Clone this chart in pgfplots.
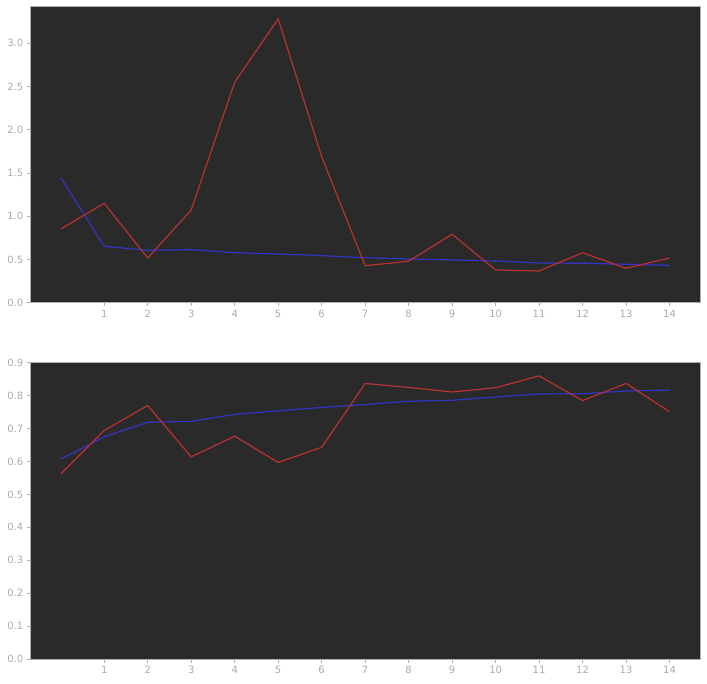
\documentclass[border=0pt]{standalone}
\usepackage{pgfplots}
\pgfplotsset{compat=1.18}
\usepackage{fontspec}
\setmainfont{DejaVu Sans}
\definecolor{bg}{HTML}{2A2A2A}
\definecolor{spine}{HTML}{B0B0B0}
\definecolor{ticklab}{HTML}{ABABAB}
\definecolor{myred}{HTML}{B83232}
\definecolor{myblue}{HTML}{3434C4}
\pgfplotsset{
  mystyle/.style={
    scale only axis, width=669.7pt, anchor=south west,
    axis background/.style={fill=bg},
    axis line style={spine, line width=0.9pt},
    every tick/.style={spine, line width=0.8pt},
    tick align=outside, tickwidth=3.5pt,
    xtick pos=bottom, ytick pos=left,
    xmin=-0.7, xmax=14.7,
    xtick={1,...,14},
    tick label style={font=\fontsize{10}{12}\selectfont, text=ticklab},
    /pgf/number format/assume math mode=true,
    yticklabel style={/pgf/number format/.cd, fixed, fixed zerofill, precision=1},
    xticklabel style={/pgf/number format/.cd, fixed, precision=0},
    clip=true,
  }
}
\begin{document}
\begin{tikzpicture}
\path[use as bounding box] (0,0) rectangle (707pt,683pt);
\begin{axis}[mystyle, height=296.7pt, at={(30.3pt,380.3pt)},
  ymin=0, ymax=3.43, ytick={0,0.5,1.0,1.5,2.0,2.5,3.0}]
\addplot[myblue, line width=1.2pt] coordinates {
(0,1.446) (1,0.652) (2,0.606) (3,0.613) (4,0.578) (5,0.563) (6,0.544) (7,0.520)
(8,0.505) (9,0.494) (10,0.482) (11,0.459) (12,0.456) (13,0.444) (14,0.432)};
\addplot[myred, line width=1.2pt] coordinates {
(0,0.852) (1,1.149) (2,0.517) (3,1.072) (4,2.549) (5,3.281) (6,1.689) (7,0.428)
(8,0.479) (9,0.791) (10,0.378) (11,0.367) (12,0.578) (13,0.398) (14,0.517)};
\end{axis}
\begin{axis}[mystyle, height=296.3pt, at={(30.3pt,24pt)},
  ymin=0, ymax=0.9, ytick={0,0.1,...,0.9}]
\addplot[myblue, line width=1.2pt] coordinates {
(0,0.607) (1,0.675) (2,0.719) (3,0.722) (4,0.743) (5,0.754) (6,0.764) (7,0.773)
(8,0.783) (9,0.786) (10,0.796) (11,0.805) (12,0.806) (13,0.814) (14,0.817)};
\addplot[myred, line width=1.2pt] coordinates {
(0,0.562) (1,0.694) (2,0.770) (3,0.614) (4,0.677) (5,0.597) (6,0.643) (7,0.837)
(8,0.825) (9,0.811) (10,0.824) (11,0.860) (12,0.785) (13,0.837) (14,0.751)};
\end{axis}
\end{tikzpicture}
\end{document}
